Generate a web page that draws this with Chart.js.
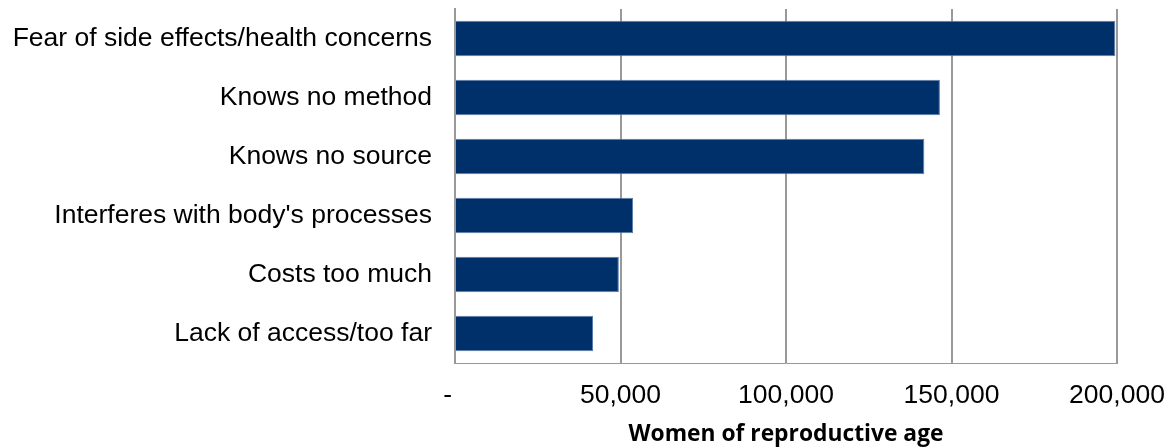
<!DOCTYPE html>
<html>
<head>
<meta charset="utf-8">
<script src="https://cdn.jsdelivr.net/npm/chart.js@4/dist/chart.umd.min.js"></script>
<style>
  html, body { margin: 0; padding: 0; background: #fff; }
  #wrap { width: 1174px; height: 448px; }
</style>
</head>
<body>
<div id="wrap"><canvas id="reasonsChart"></canvas></div>
<script>
// Reasons for not using contraception
const reasons = [
    'Fear of side effects/health concerns',
    'Knows no method',
    'Knows no source',
    "Interferes with body's processes",
    'Costs too much',
    'Lack of access/too far'
];
const women = [199500, 146500, 141800, 53800, 49500, 41700];
const xTicks = [0, 50000, 100000, 150000, 200000];

const labelFont = { family: 'Liberation Sans, Arial, sans-serif', size: 26.5 };

const ctx = document.getElementById('reasonsChart').getContext('2d');

new Chart(ctx, {
    type: 'bar',
    data: {
        labels: reasons,
        datasets: [{
            label: 'Women of reproductive age',
            data: women,
            backgroundColor: '#00306a',
            borderColor: '#5b7cab',
            borderWidth: 1,
            barPercentage: 0.6,
            categoryPercentage: 1.0
        }]
    },
    options: {
        indexAxis: 'y',
        responsive: true,
        maintainAspectRatio: false,
        animation: false,
        layout: { padding: { top: 9, right: 57, bottom: 0, left: 0 } },
        plugins: {
            legend: { display: false },
            tooltip: { enabled: false }
        },
        scales: {
            x: {
                min: 0,
                max: 200000,
                afterBuildTicks: axis => { axis.ticks = xTicks.map(v => ({ value: v })); },
                afterFit: axis => {
                    axis.height = 448 - 363;
                    axis.paddingLeft = 0;
                    axis.paddingRight = 0;
                },
                grid: { color: '#999', lineWidth: 2, drawTicks: false },
                border: { display: true, color: '#999', width: 1 },
                ticks: {
                    color: '#000',
                    padding: 17,
                    font: labelFont,
                    // zero is shown as a dash, accounting style
                    callback: v => v === 0 ? '-  ' : v.toLocaleString('en-US')
                },
                title: {
                    display: true,
                    text: 'Women of reproductive age',
                    color: '#000',
                    padding: { top: 0, bottom: 0 },
                    font: { family: 'Open Sans, sans-serif', size: 22.8, weight: 'bold' }
                }
            },
            y: {
                afterFit: axis => {
                    axis.width = 455;
                    axis.paddingTop = 0;
                    axis.paddingBottom = 0;
                },
                grid: { display: false, drawTicks: false },
                border: { display: true, color: '#999', width: 2 },
                ticks: {
                    color: '#000',
                    padding: 23,
                    font: labelFont
                }
            }
        }
    }
});
</script>
</body>
</html>
